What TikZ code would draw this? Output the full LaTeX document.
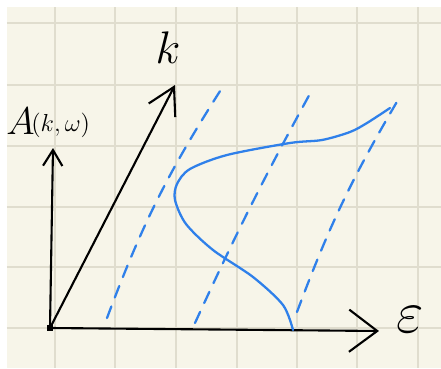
\documentclass[tikz,border=0pt]{standalone}
\usepackage{fix-cm}
\usetikzlibrary{arrows.meta}
\definecolor{paper}{HTML}{F7F5E9}
\definecolor{gridrule}{HTML}{E0DDCE}
\definecolor{sketchblue}{HTML}{2F80EA}
\begin{document}
\begin{tikzpicture}[x=0.02cm, y=-0.02cm,
    axis/.style={line width=1.2pt, line cap=round, black},
    shifted/.style={sketchblue, line width=1.3pt, line cap=round, dash pattern=on 7pt off 5.5pt},
    spectral/.style={sketchblue, line width=1.3pt, line cap=round}]
    \def\W{441}
    \def\H{369}
    % origin of the sketch (pixel coordinates, y downwards)
    \def\ox{50}
    \def\oy{328}

    % Paper and grid
    \useasboundingbox (0,0) rectangle (\W,\H);
    \fill[white] (0,0) rectangle (\W,\H);
    \fill[paper] (7,7) rectangle (\W,368);
    \foreach \gx in {55,115,176,237,297,357,418}{
        \draw[gridrule, line width=1pt] (\gx,7) -- (\gx,368);
    }
    \foreach \gy in {23,85,146,207,267,328}{
        \draw[gridrule, line width=1pt] (7,\gy) -- (\W,\gy);
    }

    % Axis end points
    \coordinate (O) at (\ox,\oy);
    \coordinate (Etip) at (379,331);
    \coordinate (Atip) at (53,148);
    \coordinate (Ktip) at (175,85);

    % Axes
    \draw[axis, -{Straight Barb[length=16pt, width=24pt, line width=1.2pt]}] (O) -- (Etip);
    \draw[axis, -{Straight Barb[length=9pt, width=11pt, line width=1.2pt]}] (O) -- (Atip);
    \draw[axis, -{Straight Barb[length=15pt, width=17pt, line width=1.2pt]}] (O) -- (Ktip);
    \fill (O) ++(-3,-3) rectangle ++(6,6);

    % Labels
    \node (klab) at (168,48) {\fontsize{26}{26}\selectfont $k$};
    \node[anchor=west, inner sep=0pt] (Alab) at (6,121) {\fontsize{22}{22}\selectfont $A$};
    \node[anchor=west, inner sep=0pt] (kwlab) at (31,125) {\fontsize{14}{14}\selectfont $(k,\omega)$};
    \node (epslab) at (410,320) {\fontsize{34}{34}\selectfont $\varepsilon$};

    % Dashed lines parallel to k
    \coordinate (d1a) at (107,318); \coordinate (d1b) at (222,88);
    \coordinate (d2a) at (195,323); \coordinate (d2b) at (312,90);
    \coordinate (d3a) at (297,312); \coordinate (d3b) at (398,100);
    \draw[shifted] (d1a) to[bend left=6] (d1b);
    \draw[shifted] (d2a) to[bend left=2] (d2b);
    \draw[shifted] (d3a) to[bend left=5] (d3b);

    % Spectral function
    \draw[spectral] plot[smooth] coordinates {(293,330) (283,305) (253,277) (213,250) (186,224) (175,200)
        (177,184) (190,169) (227,155) (290,143) (322,140) (350,132) (367,123) (390,108)};
\end{tikzpicture}
\end{document}
